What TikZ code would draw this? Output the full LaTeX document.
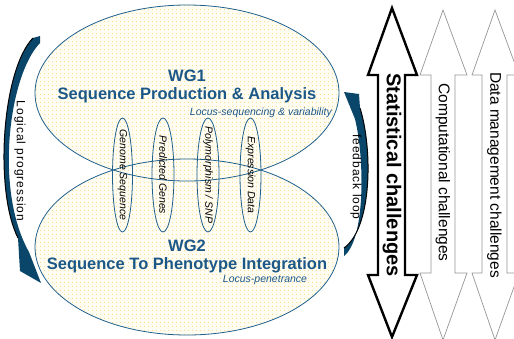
\documentclass[tikz,border=0pt]{standalone}
\usepackage{fontspec}
\setmainfont{Liberation Sans}
\usetikzlibrary{patterns}
\definecolor{wgblue}{RGB}{28,88,135}
\definecolor{ellblue}{RGB}{30,95,140}
\definecolor{navy}{RGB}{10,70,105}
\definecolor{bgy}{RGB}{255,253,242}
\definecolor{doty}{RGB}{251,220,140}
\definecolor{arrgray}{RGB}{150,150,150}
\pgfdeclarepatternformonly{ydots}{\pgfqpoint{-1pt}{-1pt}}{\pgfqpoint{1pt}{1pt}}{\pgfqpoint{4pt}{4pt}}{\pgfpathrectangle{\pgfqpoint{-0.5pt}{-0.5pt}}{\pgfqpoint{1pt}{1pt}}\pgfusepath{fill}}
\begin{document}
\begin{tikzpicture}[x=1pt,y=-1pt,
  wgfill/.style={fill=bgy, postaction={pattern=ydots, pattern color=doty}},
  wgline/.style={draw=ellblue, line width=0.8pt},
  wgtitle/.style={text=wgblue, font=\bfseries\fontsize{16.5}{18}\selectfont, align=center, inner sep=0pt},
  locus/.style={text=wgblue, font=\itshape\fontsize{10.5}{12}\selectfont, inner sep=0pt},
  datatext/.style={rotate=-90, font=\itshape\fontsize{10.5}{12}\selectfont, inner sep=0pt},
  sidetext/.style={rotate=-90, font=\fontsize{12}{14}\selectfont\addfontfeatures{LetterSpace=8}, inner sep=0pt},
  bigarrow/.style={draw=black, fill=white, line width=2.4pt, line join=miter},
  grayarrow/.style={draw=arrgray, fill=white, line width=0.7pt, line join=miter},
  chaltext/.style={rotate=-90, font=\fontsize{15.5}{18}\selectfont, inner sep=0pt},
  curvearrow/.style={fill=navy},
]
\useasboundingbox (0,0) rectangle (514,338);
\clip (0,0) rectangle (514,338);

% working group ellipses
\path[wgfill] (187,93) ellipse [x radius=152pt, y radius=88pt];
\path[wgfill] (187,247) ellipse [x radius=152pt, y radius=88pt];
\path[wgline] (187,93) ellipse [x radius=152pt, y radius=88pt];
\path[wgline] (187,247) ellipse [x radius=152pt, y radius=88pt];

\node[wgtitle] (wg1) at (187,86) {WG1\\Sequence Production \& Analysis};
\node[locus, anchor=east] (loc1) at (332,113) {Locus-sequencing \& variability};
\node[wgtitle] (wg2) at (187,256) {WG2\\Sequence To Phenotype Integration};
\node[locus] (loc2) at (265,280) {Locus-penetrance};

% data ellipses
\node[datatext] (gs) at (122.5,175) {Genome Sequence};
\node[datatext] (pg) at (163,175) {Predicted Genes};
\node[datatext] (ps) at (208,175) {Polymorphism / SNP};
\node[datatext] (ed) at (250.5,175) {Expression Data};
\draw[wgline] (gs.center) ellipse [x radius=10pt, y radius=57pt];
\draw[wgline] (pg.center) ellipse [x radius=11pt, y radius=57pt];
\draw[wgline] (ps.center) ellipse [x radius=11pt, y radius=57pt];
\draw[wgline] (ed.center) ellipse [x radius=10.5pt, y radius=57pt];

% logical progression arrow
\fill[curvearrow] (33,38) .. controls (2,70) and (-6,190) .. (18,238)
  -- (20,271) -- (41,283) -- (29,252)
  .. controls (-6,190) and (9,75) .. (40,43) -- (40,36) -- cycle;
\draw[black, line width=1pt] (33,38) .. controls (2,70) and (-6,190) .. (18,238);
\node[sidetext] (logic) at (20,161) {Logical progression};

% feedback loop arrow
\fill[curvearrow] (344,92) -- (359,94) -- (360,108)
  .. controls (373,150) and (372,228) .. (344,248) -- (344,256)
  .. controls (365,240) and (365,160) .. (355,119) -- cycle;
\draw[black, line width=1pt] (360,108) .. controls (373,150) and (372,228) .. (344,248);
\node[sidetext] (fb) at (356,177) {feedback loop};

% challenge arrows
\draw[bigarrow] (392,8) -- (417,75) -- (405,75) -- (405,275) -- (417,275) -- (392,337)
  -- (368,275) -- (378,275) -- (378,75) -- (368,75) -- cycle;
\draw[grayarrow] (443,10) -- (467,75) -- (455,75) -- (455,273) -- (467,273) -- (443,340)
  -- (420,273) -- (431,273) -- (431,75) -- (420,75) -- cycle;
\draw[grayarrow] (495,10) -- (519,75) -- (507,75) -- (507,273) -- (519,273) -- (495,340)
  -- (472,273) -- (482,273) -- (482,75) -- (472,75) -- cycle;
\node[chaltext, font=\bfseries\fontsize{20}{22}\selectfont] (stat) at (392,175) {Statistical challenges};
\node[chaltext] (comp) at (443,172.5) {Computational challenges};
\node[chaltext] (data) at (494.5,175) {Data management challenges};
\end{tikzpicture}
\end{document}
